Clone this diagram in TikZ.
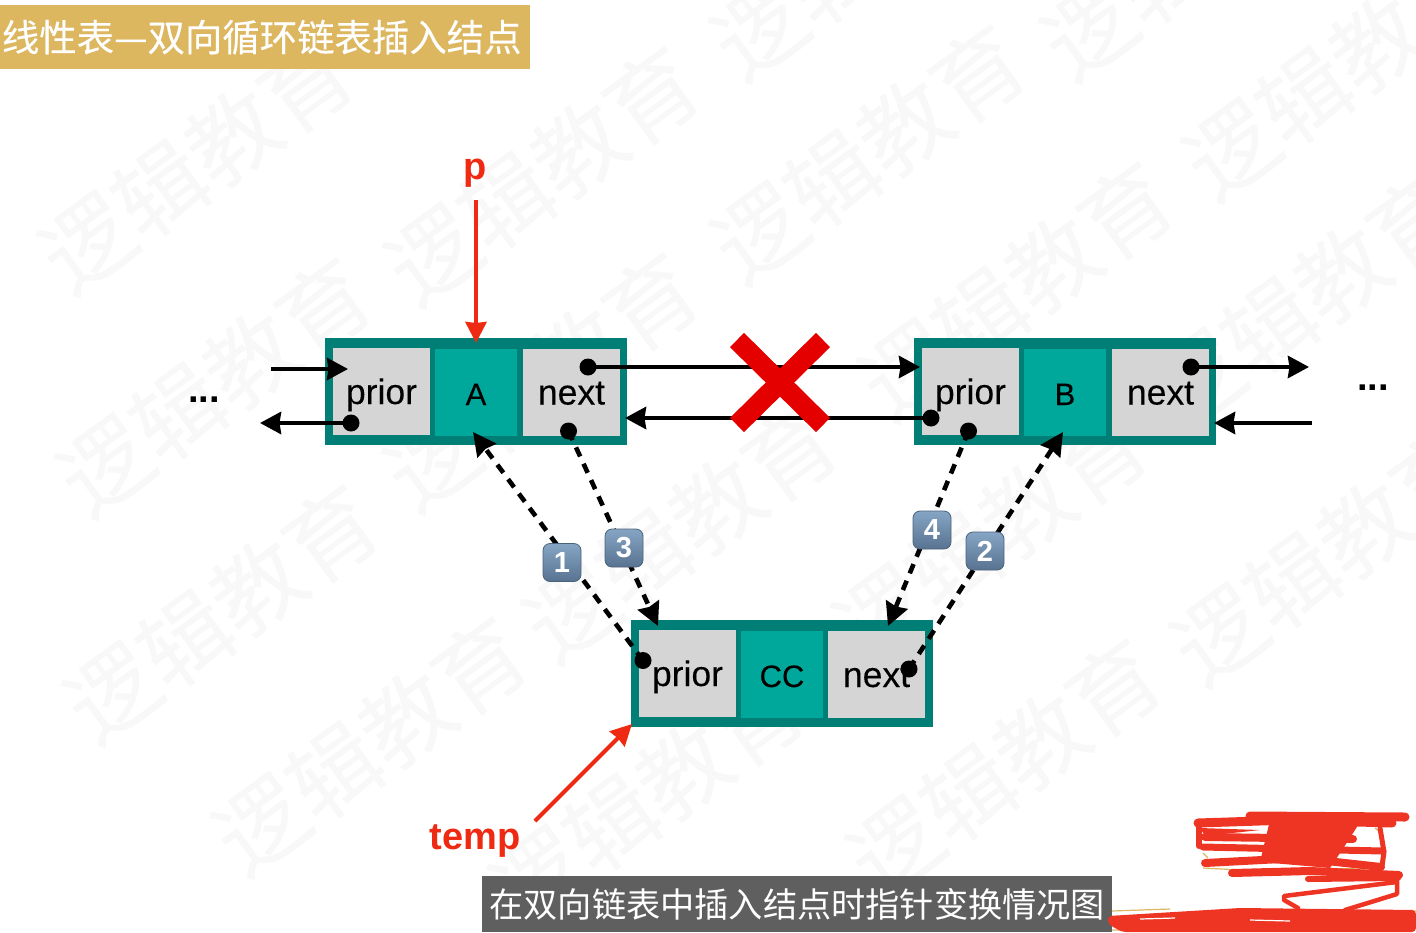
\documentclass[tikz,border=0pt]{standalone}
\usepackage{fontspec}
\setmainfont{Liberation Sans}
\newfontfamily\cjk{Noto Sans CJK SC}
\newfontfamily\cjkmed[FakeBold=0.25]{Noto Sans CJK SC}
\newfontfamily\cellfont[FakeBold=0.12]{Liberation Sans}
\usetikzlibrary{arrows.meta,shadings}
\definecolor{frameteal}{HTML}{017F77}
\definecolor{cellgrey}{HTML}{D5D5D5}
\definecolor{cellteal}{HTML}{00A89C}
\definecolor{redmark}{HTML}{EE2A12}
\definecolor{crossred}{HTML}{E50000}
\definecolor{scribred}{HTML}{EE3524}
\definecolor{titlegold}{HTML}{DDB660}
\definecolor{capgrey}{HTML}{5F5F5F}
\definecolor{markgrey}{HTML}{F8F8F8}
\definecolor{keytop}{HTML}{86A5C4}
\definecolor{keybot}{HTML}{587391}
\newcommand{\fs}[1]{\fontsize{#1}{#1}\selectfont}
\tikzset{
  x=1pt,y=-1pt,
  watermark/.style={text=markgrey,rotate=36,font=\cjkmed\fs{90},inner sep=0},
  framebox/.style={fill=frameteal,minimum width=302,minimum height=107,inner sep=0},
  greycell/.style={fill=cellgrey,minimum width=97,minimum height=87,inner sep=0,text=black,font=\cellfont\fs{35.5},text height=25,text depth=0},
  datacell/.style={fill=cellteal,minimum width=82,minimum height=87,inner sep=0,text=black,font=\cellfont\fs{31},text height=25,text depth=0},
  dotmark/.style={circle,fill=black,minimum size=17,inner sep=0},
  link/.style={line width=4.4,draw=black,-{Stealth[length=21,width=22,inset=1.5]}},
  dashlink/.style={line width=4.6,draw=black,dash pattern=on 10 off 8,-{Stealth[length=23,width=23,inset=2]}},
  redlink/.style={line width=4,draw=redmark,-{Stealth[length=21,width=21,inset=1]}},
  keycap/.style={draw=keybot!85!black,line width=0.8,rounded corners=7,minimum size=38,inner sep=0,top color=keytop,bottom color=keybot,text=white,font=\bfseries\fs{29}},
  scrib/.style={draw=scribred,line cap=round,line join=round},
  goldbit/.style={draw=titlegold,line width=1.2},
  ellipsis/.style={font=\bfseries\fs{38},text=black,inner sep=0}
}
\begin{document}
\begin{tikzpicture}
\useasboundingbox (0,0) rectangle (1416,932);
% watermark
\foreach \wx/\wy in {196/163,542/175,868/153,1340/70,868/-50,1198/-50,214/386,541/381,1016/290,1305/300,221/613,680/532,990/535,1328/555,370/745,647/797,1004/767}
  \node[watermark] at (\wx,\wy) {逻辑教育};
% title
\node[fill=titlegold,minimum width=530,minimum height=64,inner sep=0,text=white,font=\cjkmed\fs{37.4},anchor=north west] (title) at (0,5) {\hspace*{-7pt}线性表—双向循环链表插入结点};
% nodes
\node[framebox] (frameA) at (476,391) {};
\node[greycell] (aprior) at (381.5,391.5) {prior};
\node[datacell] (adata) at (476,392.5) {A};
\node[greycell] (anext) at (571.5,392) {next};
\node[framebox] (frameB) at (1065,391) {};
\node[greycell] (bprior) at (970.5,391.5) {prior};
\node[datacell] (bdata) at (1065,392.5) {B};
\node[greycell] (bnext) at (1160.5,392) {next};
\node[framebox] (frameC) at (782,673.5) {};
\node[greycell] (cprior) at (687.5,673.5) {prior};
\node[datacell] (cdata) at (782,674.5) {CC};
\node[greycell] (cnext) at (876.5,674.5) {next};
% dots and free ends
\coordinate (inA) at (271,369); \coordinate (inAend) at (348,369);
\coordinate (outAend) at (260,423);
\coordinate (inBend) at (920,367);
\coordinate (outBend) at (625,418);
\coordinate (outCend) at (1309,367);
\coordinate (inC) at (1312,423); \coordinate (inCend) at (1214,423);
\coordinate (dashAend) at (473,432);
\coordinate (dashCpend) at (658,626);
\coordinate (dashCnend) at (888,626);
\coordinate (dashBend) at (1063,432);
\node[dotmark] (d1) at (351,423) {};
\node[dotmark] (d2) at (588,367) {};
\node[dotmark] (d3) at (568.5,431) {};
\node[dotmark] (d4) at (931,418) {};
\node[dotmark] (d5) at (968.5,431) {};
\node[dotmark] (d6) at (1191,367) {};
\node[dotmark] (d7) at (643,660.5) {};
\node[dotmark] (d8) at (909,669) {};
% solid links
\draw[link] (inA) -- (inAend);
\draw[link] (d1.center) -- (outAend);
\draw[link] (d2.center) -- (inBend);
\draw[link] (d4.center) -- (outBend);
\draw[link] (d6.center) -- (outCend);
\draw[link] (inC) -- (inCend);
% dashed links
\draw[dashlink] (d7.center) -- (dashAend);
\draw[dashlink] (d3.center) -- (dashCpend);
\draw[dashlink] (d5.center) -- (dashCnend);
\draw[dashlink] (d8.center) -- (dashBend);
% keycaps
\node[keycap] (k1) at (562,562.5) {1};
\node[keycap] (k3) at (624,548) {3};
\node[keycap] (k4) at (932,530) {4};
\node[keycap] (k2) at (985,551) {2};
% cross
\coordinate (xa) at (737,340); \coordinate (xb) at (823,425);
\coordinate (xc) at (823,340); \coordinate (xd) at (737,425);
\draw[crossred,line width=20] (xa) -- (xb) (xc) -- (xd);
% red pointers
\node[font=\bfseries\fs{38},text=redmark,inner sep=0] (plabel) at (475,173) {p};
\node[font=\bfseries\fs{38},text=redmark,inner sep=0] (templabel) at (475,841) {temp};
\coordinate (pstart) at (476,200); \coordinate (pend) at (476,343);
\coordinate (tstart) at (535,821); \coordinate (tend) at (632,724);
\draw[redlink] (pstart) -- (pend);
\draw[redlink] (tstart) -- (tend);
% ellipses
\node[ellipsis] (dotsL) at (204,400) {...};
\node[ellipsis] (dotsR) at (1373,388) {...};
% caption
\node[fill=capgrey,minimum width=630,minimum height=56,inner sep=0,text=white,font=\cjk\fs{34.2},anchor=north west] (caption) at (482,876) {在双向链表中插入结点时指针变换情况图};
% traces of covered text
\draw[goldbit] (1203,853) -- (1208,858) (1203,868) -- (1240,870) (1300,868) -- (1365,869) (1375,828) -- (1382,834);
\draw[goldbit] (1112,911) -- (1170,909) (1112,930) -- (1125,930) (1400,911) -- (1416,911);
% scribble
\draw[scrib,line width=9] (1250,816) -- (1405,817);
\draw[scrib,line width=9] (1198,823) -- (1290,820) -- (1392,823);
\draw[scrib,line width=6] (1199,824) -- (1199,846);
\draw[scrib,line width=8] (1205,837) -- (1353,839);
\draw[scrib,line width=7] (1203,847) -- (1383,851);
\draw[scrib,line width=8] (1205,863) -- (1300,858) -- (1381,867);
\draw[scrib,line width=5] (1380,828) -- (1384,852) -- (1382,866);
\fill[scribred] (1270,820) -- (1360,822) -- (1350,838) -- (1330,868) -- (1260,862) -- cycle;
\fill[scribred] (1200,828) -- (1260,830) -- (1205,836) -- cycle;
\draw[scrib,line width=8] (1232,873) -- (1310,871) -- (1399,875);
\draw[scrib,line width=6] (1308,879) -- (1398,878);
\draw[scrib,line width=4.5] (1397,882) -- (1284,896) -- (1284,900) -- (1298,908);
\draw[scrib,line width=4.5] (1397,882) -- (1397,894) -- (1345,910);
\fill[scribred,rounded corners=4] (1108,916) -- (1240,908) -- (1416,910) -- (1416,932) -- (1122,932) -- (1108,924) -- cycle;
\draw[white,line width=1.2] (1140,919) -- (1175,918) (1250,920) -- (1290,921);
\end{tikzpicture}
\end{document}
